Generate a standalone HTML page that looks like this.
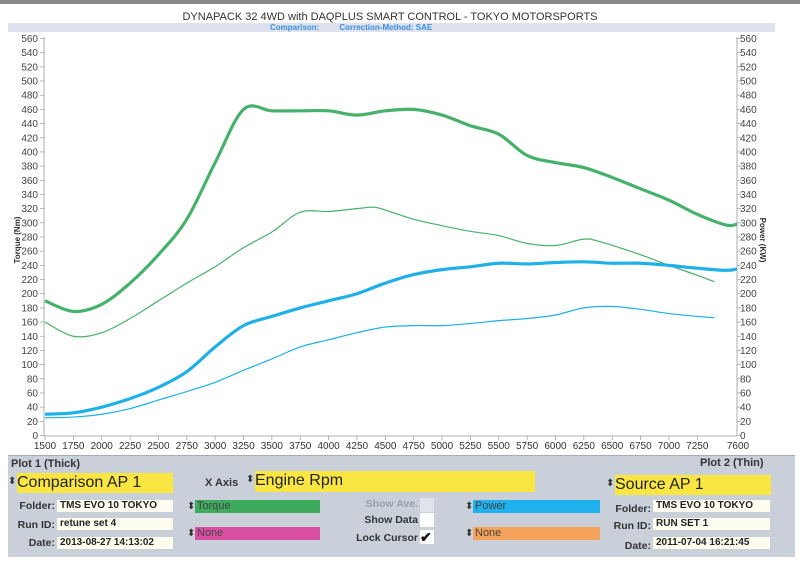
<!DOCTYPE html>
<html><head><meta charset="utf-8"><style>
html,body{margin:0;padding:0;background:#fff;}
body{width:800px;height:566px;position:relative;overflow:hidden;font-family:"Liberation Sans",sans-serif;}
.a{position:absolute;white-space:nowrap;}
.lbl{font-weight:bold;font-size:10.5px;color:#333;text-align:right;}
.box{background:#fdfdf0;font-weight:bold;font-size:10px;color:#222;padding-left:3px;box-sizing:border-box;line-height:12px;}
.yel{background:#f9e642;font-size:16px;color:#222;line-height:20px;}
.arr{font-size:10px;color:#333;}
.sel{font-size:11px;color:#444;line-height:13px;padding-left:2px;box-sizing:border-box;}
</style></head><body>
<div class="a" style="left:0;top:0;width:800px;height:4px;background:#888;"></div>
<div class="a" style="left:8px;top:23px;width:767px;height:9px;background:#dde2ee;"></div>
<div class="a" style="left:0;top:11px;width:780px;text-align:center;font-size:11px;color:#333;">DYNAPACK 32 4WD with DAQPLUS SMART CONTROL - TOKYO MOTORSPORTS</div>
<div class="a" style="left:270px;top:23px;font-size:8px;color:#3a8ee0;font-weight:bold;">Comparison:&nbsp;&nbsp;&nbsp;&nbsp;&nbsp;&nbsp;&nbsp;&nbsp;&nbsp;Correction-Method: SAE</div>
<svg class="a" style="left:0;top:0" width="800" height="456" id="s"></svg>
<div class="a" style="left:8px;top:455px;width:787px;height:101px;background:#c9d0da;border-top:1px solid #aab;"></div>
<div class="a" style="left:11px;top:458px;font-weight:bold;font-size:11px;color:#333;">Plot 1 (Thick)</div>
<div class="a" style="left:700px;top:457px;font-weight:bold;font-size:11px;color:#333;">Plot 2 (Thin)</div>
<div class="a arr" style="left:8px;top:476px;">⬍</div>
<div class="a yel" style="left:17px;top:473px;width:156px;height:20px;">Comparison AP 1</div>
<div class="a lbl" style="left:205px;top:477px;font-size:11px;">X Axis</div>
<div class="a arr" style="left:246px;top:474px;">⬍</div>
<div class="a yel" style="left:255px;top:471px;width:280px;height:21px;">Engine Rpm</div>
<div class="a arr" style="left:606px;top:478px;">⬍</div>
<div class="a yel" style="left:615px;top:475px;width:156px;height:20px;">Source AP 1</div>
<div class="a lbl" style="left:0;top:500px;width:55px;">Folder:</div>
<div class="a box" style="left:57px;top:500px;width:116px;height:12px;">TMS EVO 10 TOKYO</div>
<div class="a lbl" style="left:0;top:519px;width:55px;">Run ID:</div>
<div class="a box" style="left:57px;top:518px;width:116px;height:12px;">retune set 4</div>
<div class="a lbl" style="left:0;top:537px;width:55px;">Date:</div>
<div class="a box" style="left:57px;top:537px;width:116px;height:12px;">2013-08-27 14:13:02</div>
<div class="a arr" style="left:187px;top:501px;">⬍</div>
<div class="a sel" style="left:195px;top:500px;width:125px;height:13px;background:#3daa5c;">Torque</div>
<div class="a arr" style="left:187px;top:528px;">⬍</div>
<div class="a sel" style="left:195px;top:527px;width:125px;height:13px;background:#d94fa3;">None</div>
<div class="a lbl" style="left:340px;top:498px;width:78px;color:#9aa0aa;">Show Ave.</div>
<div class="a" style="left:420px;top:498px;width:14px;height:14px;background:#dfe3ea;"></div>
<div class="a lbl" style="left:340px;top:514px;width:78px;">Show Data</div>
<div class="a" style="left:420px;top:513px;width:14px;height:14px;background:#fff;"></div>
<div class="a lbl" style="left:340px;top:532px;width:78px;">Lock Cursor</div>
<div class="a" style="left:420px;top:530px;width:14px;height:14px;background:#fff;font-size:14px;line-height:14px;color:#111;font-weight:bold;">✔</div>
<div class="a arr" style="left:465px;top:501px;">⬍</div>
<div class="a sel" style="left:473px;top:500px;width:127px;height:13px;background:#1fb0ee;">Power</div>
<div class="a arr" style="left:465px;top:528px;">⬍</div>
<div class="a sel" style="left:473px;top:527px;width:127px;height:13px;background:#f5a35a;">None</div>
<div class="a lbl" style="left:590px;top:503px;width:61px;">Folder:</div>
<div class="a box" style="left:653px;top:500px;width:117px;height:12px;">TMS EVO 10 TOKYO</div>
<div class="a lbl" style="left:590px;top:520px;width:61px;">Run ID:</div>
<div class="a box" style="left:653px;top:518px;width:117px;height:12px;">RUN SET 1</div>
<div class="a lbl" style="left:590px;top:540px;width:61px;">Date:</div>
<div class="a box" style="left:653px;top:537px;width:117px;height:12px;">2011-07-04 16:21:45</div>
<script>
var s=document.getElementById('s'),h='';
function X(r){return 45+(r-1500)/250*28.36;}
function Y(v){return 435.5-v*0.7089;}
h+='<line x1="44" y1="37" x2="44" y2="436" stroke="#999" stroke-width="0.8"/>';
h+='<line x1="737" y1="37" x2="737" y2="436" stroke="#999" stroke-width="0.8"/>';
h+='<line x1="44" y1="436" x2="737" y2="436" stroke="#999" stroke-width="0.8"/>';
for(var v=0;v<=560;v+=20){var y=Y(v);
h+='<line x1="40" y1="'+y+'" x2="44" y2="'+y+'" stroke="#999" stroke-width="0.7"/><line x1="737" y1="'+y+'" x2="741" y2="'+y+'" stroke="#999" stroke-width="0.7"/>';
h+='<text x="38" y="'+(y+3.5)+'" font-size="10" fill="#444" text-anchor="end" font-family="Liberation Sans">'+v+'</text>';
h+='<text x="740" y="'+(y+3.5)+'" font-size="10" fill="#444" font-family="Liberation Sans">'+v+'</text>';}
for(var r=1500;r<=7250;r+=250){var x=X(r);h+='<line x1="'+x+'" y1="436" x2="'+x+'" y2="440" stroke="#999" stroke-width="0.7"/><text x="'+x+'" y="449" font-size="10" fill="#333" text-anchor="middle" font-family="Liberation Sans">'+r+'</text>';}
h+='<text x="738" y="449" font-size="10" fill="#333" text-anchor="middle" font-family="Liberation Sans">7600</text>';
h+='<text transform="translate(20,240) rotate(-90)" font-size="8" font-weight="bold" fill="#333" text-anchor="middle" font-family="Liberation Sans">Torque (Nm)</text>';
h+='<text transform="translate(760,240) rotate(90)" font-size="8" font-weight="bold" fill="#333" text-anchor="middle" font-family="Liberation Sans">Power (KW)</text>';
function P(d,c,w){var p='';for(var i=0;i<d.length;i++){var x=X(d[i][0]),y=Y(d[i][1]);
if(i==0)p+='M'+x+' '+y;else{var a=d[i-1],b=d[Math.max(i-2,0)],n=d[Math.min(i+1,d.length-1)];
var x0=X(a[0]),y0=Y(a[1]);var c1x=x0+(x-X(b[0]))/6,c1y=y0+(y-Y(b[1]))/6,c2x=x-(X(n[0])-x0)/6,c2y=y-(Y(n[1])-y0)/6;
p+=' C'+c1x+' '+c1y+' '+c2x+' '+c2y+' '+x+' '+y;}}
h+='<path d="'+p+'" fill="none" stroke="'+c+'" stroke-width="'+w+'" stroke-linejoin="round"/>';}
P([[1500,190],[1750,175],[2000,185],[2250,215],[2500,255],[2750,305],[3000,385],[3250,460],[3500,458],[3750,458],[4000,458],[4250,452],[4500,458],[4750,460],[5000,452],[5250,437],[5500,425],[5750,395],[6000,385],[6250,378],[6500,364],[6750,348],[7000,332],[7250,312],[7500,297],[7600,298]],'#46b16a',3.2);
P([[1500,160],[1750,140],[2000,145],[2250,165],[2500,190],[2750,215],[3000,238],[3250,265],[3500,287],[3750,315],[4000,316],[4250,320],[4400,322],[4500,318],[4750,305],[5000,296],[5250,288],[5500,282],[5750,271],[6000,268],[6250,277],[6400,273],[6750,255],[7000,240],[7250,226],[7400,217]],'#46b16a',1.2);
P([[1500,30],[1750,32],[2000,40],[2250,52],[2500,68],[2750,90],[3000,125],[3250,155],[3500,168],[3750,180],[4000,190],[4250,200],[4500,215],[4750,227],[5000,234],[5250,238],[5500,243],[5750,242],[6000,244],[6250,245],[6500,243],[6750,243],[7000,240],[7250,236],[7500,233],[7600,235]],'#1fb0e8',3.2);
P([[1500,25],[1750,26],[2000,30],[2250,38],[2500,50],[2750,62],[3000,75],[3250,92],[3500,108],[3750,125],[4000,135],[4250,145],[4500,153],[4750,155],[5000,155],[5250,158],[5500,162],[5750,165],[6000,170],[6250,180],[6500,182],[6750,178],[7000,172],[7250,168],[7400,166]],'#1fb0e8',1.2);
s.innerHTML=h;
</script>
</body></html>
